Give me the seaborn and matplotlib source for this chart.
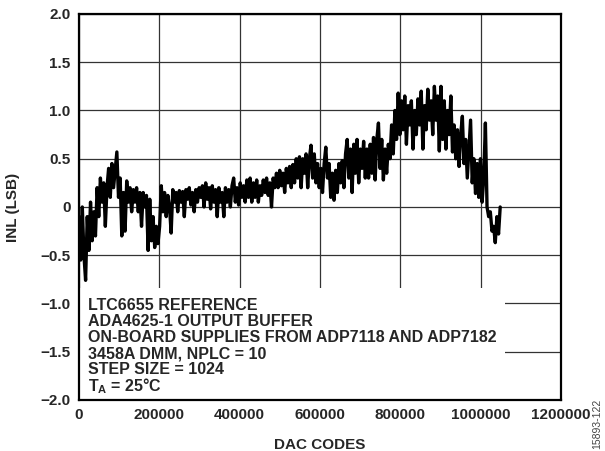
import numpy as np
import pandas as pd
import seaborn as sns
import matplotlib.pyplot as plt
from matplotlib.patches import Rectangle

# DAC codes, paso de 4096 (se lee el trazo a esa resolucion)
STEP = 4096

# INL (LSB), por tramos
inl_0_100k = [-0.1, -0.55, 0.0, -0.5, -0.76, -0.1, -0.45, 0.05, -0.35, -0.05,
              -0.3, 0.2, -0.1, 0.3, 0.05, 0.25, -0.2, 0.2, 0.4, 0.1,
              0.45, 0.2, 0.38, 0.57, 0.1]
inl_100k_200k = [0.3, -0.3, 0.15, -0.25, 0.27, 0.05, 0.2, -0.05, 0.18, 0.05,
                 0.2, -0.05, 0.15, -0.2, 0.15, 0.0, 0.12, -0.45, 0.08, -0.35,
                 -0.1, -0.42, -0.2, -0.38]
inl_200k_370k = [-0.2, 0.22, -0.05, 0.15, -0.1, 0.12, 0.0, -0.27, 0.18, 0.05,
                 0.15, -0.05, 0.17, 0.05, 0.16, -0.1, 0.18, 0.08, 0.2, 0.02,
                 0.15, -0.05, 0.18, 0.05, 0.2, 0.1, 0.22, 0.0, 0.25, 0.08,
                 0.2, -0.02, 0.22, 0.05, 0.18, -0.1, 0.2, 0.05, 0.15, -0.1,
                 0.2]
inl_370k_540k = [0.05, 0.18, 0.0, 0.22, 0.3, 0.05, 0.2, 0.02, 0.25, 0.1,
                 0.22, 0.05, 0.28, 0.1, 0.3, 0.05, 0.25, 0.1, 0.28, 0.05,
                 0.22, 0.12, 0.28, 0.15, 0.3, 0.12, 0.25, 0.0, 0.3, 0.2,
                 0.35, 0.2, 0.38, 0.22, 0.35, 0.15, 0.4, 0.25, 0.42, 0.2,
                 0.44, 0.25]
inl_540k_715k = [0.5, 0.3, 0.52, 0.2, 0.5, 0.35, 0.55, 0.2, 0.5, 0.64,
                 0.3, 0.55, 0.25, 0.45, 0.2, 0.4, 0.15, 0.45, 0.62, 0.3,
                 0.45, 0.1, 0.35, 0.07, 0.38, 0.15, 0.45, 0.25, 0.48, 0.2,
                 0.55, 0.7, 0.3, 0.6, 0.15, 0.65, 0.35, 0.7, 0.25, 0.6,
                 0.4, 0.68, 0.3]
inl_715k_900k = [0.6, 0.3, 0.65, 0.35, 0.72, 0.28, 0.7, 0.87, 0.4, 0.7,
                 0.28, 0.6, 0.35, 0.65, 0.5, 0.85, 0.55, 1.0, 0.7, 1.18,
                 0.75, 1.1, 0.8, 1.15, 0.65, 1.05, 0.85, 1.1, 0.6, 1.0,
                 0.75, 1.12, 0.85, 1.2, 0.6, 1.05, 0.8, 1.22, 0.9, 1.1,
                 0.75, 1.25, 0.9, 1.15, 0.58]
inl_900k_end = [1.25, 0.7, 1.1, 0.6, 1.0, 0.75, 1.15, 0.57, 0.85, 0.5,
                0.8, 0.42, 0.75, 0.94, 0.45, 0.7, 0.3, 0.6, 0.9, 0.25,
                0.5, 0.14, 0.45, 0.1, 0.5, 0.05, 0.3, 0.87, 0.0, -0.1,
                -0.05, -0.25, -0.2, -0.37, -0.1, -0.28, 0.0]

x_ticks = [0, 200000, 400000, 600000, 800000, 1000000, 1200000]
y_ticks = [-2.0, -1.5, -1.0, -0.5, 0, 0.5, 1.0, 1.5, 2.0]
y_labels = ['\u22122.0', '\u22121.5', '\u22121.0', '\u22120.5', '0', '0.5', '1.0', '1.5', '2.0']

notes = ['LTC6655 REFERENCE',
         'ADA4625-1 OUTPUT BUFFER',
         'ON-BOARD SUPPLIES FROM ADP7118 AND ADP7182',
         '3458A DMM, NPLC = 10',
         'STEP SIZE = 1024',
         r'T$_\mathrm{A}$ = 25°C']

inl = (inl_0_100k + inl_100k_200k + inl_200k_370k + inl_370k_540k
       + inl_540k_715k + inl_715k_900k + inl_900k_end)
codes = np.arange(len(inl)) * STEP
data = pd.DataFrame({'code': codes, 'inl': inl})

sns.set_style('white')
plt.rcParams['font.family'] = ['Liberation Sans', 'DejaVu Sans']
plt.rcParams['font.weight'] = 'bold'
plt.rcParams['mathtext.fontset'] = 'custom'
plt.rcParams['mathtext.rm'] = 'Liberation Sans:bold'
plt.rcParams['mathtext.it'] = 'Liberation Sans:bold'
plt.rcParams['mathtext.bf'] = 'Liberation Sans:bold'

fig = plt.figure(figsize=(6.05, 4.51), dpi=100)
ax = fig.add_axes([0.1306, 0.1131, 0.7967, 0.8559])

sns.lineplot(data=data, x='code', y='inl', ax=ax, color='black',
             linewidth=2.4, estimator=None, sort=False, zorder=3)

ax.set_xlim(0, 1200000)
ax.set_ylim(-2.0, 2.0)
ax.set_xticks(x_ticks)
ax.set_xticklabels([str(t) for t in x_ticks])
ax.set_yticks(y_ticks)
ax.set_yticklabels(y_labels)
ax.tick_params(length=0, labelsize=11, pad=6)
for lbl in ax.get_xticklabels() + ax.get_yticklabels():
    lbl.set_fontweight('bold')

ax.grid(True, color='#333333', linewidth=0.9)
ax.set_axisbelow(True)
for sp in ax.spines.values():
    sp.set_visible(True)
    sp.set_color('black')
    sp.set_linewidth(1.6)

# caja blanca de notas que tapa la rejilla
ax.add_patch(Rectangle((0, -2.0), 1060000, 1.16, facecolor='white',
                       edgecolor='none', zorder=1))
for i, note in enumerate(notes):
    ax.text(22000, -1.016 - i * 0.168, note, fontsize=11.5, fontweight='bold',
            va='center', ha='left', zorder=4)

ax.set_xlabel('DAC CODES', fontsize=11, fontweight='bold', labelpad=11)
ax.set_ylabel('INL (LSB)', fontsize=11, fontweight='bold', labelpad=15)

fig.text(0.995, 0.06, '15893-122', rotation=90, fontsize=7.5,
         fontweight='normal', color='#444444', ha='right', va='center')

fig.savefig('out.png', dpi=100)
